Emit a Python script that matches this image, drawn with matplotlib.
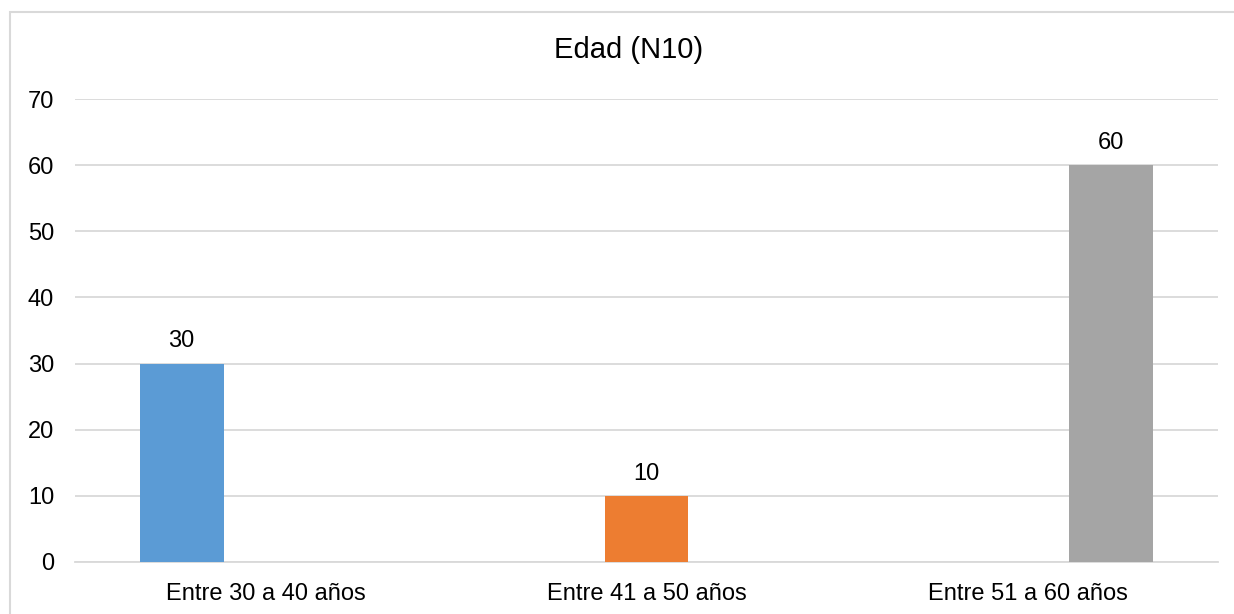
import matplotlib
matplotlib.use('Agg')
import matplotlib.pyplot as plt
import numpy as np
from matplotlib.patches import Rectangle

plt.rcParams['font.family'] = ['Liberation Sans', 'DejaVu Sans']

categorias = ['Entre 30 a 40 años', 'Entre 41 a 50 años', 'Entre 51 a 60 años']
valores = [30, 10, 60]
colores = ['#5B9BD5', '#ED7D31', '#A5A5A5']
titulo = 'Edad (N10)'

fig = plt.figure(figsize=(12.34, 6.14), dpi=100)
ax = fig.add_axes([75/1234, 1-562/614, (1218-75)/1234, (562-99)/614])

# barras agrupadas: cada serie ocupa su propia posicion dentro del grupo
ancho = 0.22
x = np.arange(len(categorias))
for i, (v, c) in enumerate(zip(valores, colores)):
    pos = x[i] + (i - 1) * ancho
    ax.bar(pos, v, width=ancho, color=c, zorder=3)
    ax.annotate(str(v), (pos, v), xytext=(0, 8), textcoords='offset points',
                ha='center', va='bottom', fontsize=17, color='#000000')

ax.set_xlim(-0.5, 2.5)
ax.set_ylim(0, 70)
ax.set_yticks(range(0, 71, 10))
ax.set_xticks(x)
ax.set_xticklabels(categorias)
ax.yaxis.grid(True, color='#D9D9D9', linewidth=1.3, zorder=0)
for s in ['left', 'right', 'top']:
    ax.spines[s].set_visible(False)
ax.spines['bottom'].set_color('#D9D9D9')
ax.spines['bottom'].set_linewidth(1.3)
ax.tick_params(axis='both', length=0, labelsize=17, colors='#000000')
ax.tick_params(axis='y', pad=15)
ax.tick_params(axis='x', pad=15)

fig.text(629/1234, 1-50/614, titulo, ha='center', va='center', fontsize=21)

# marco del grafico (solo se ven los bordes izquierdo y superior)
fig.patches.append(Rectangle((10/1234, -0.01), 1.0, 1-12/614+0.01,
                             transform=fig.transFigure, fill=False,
                             edgecolor='#D9D9D9', linewidth=1.5))

fig.savefig('out.png', dpi=100)
